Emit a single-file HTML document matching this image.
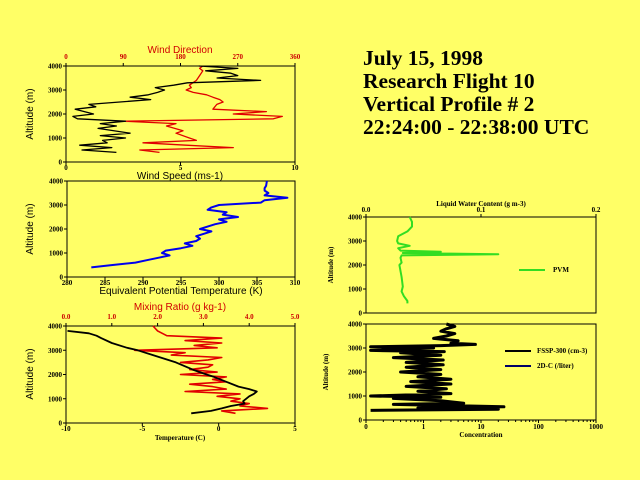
<!DOCTYPE html>
<html><head><meta charset="utf-8"><style>
html,body{margin:0;padding:0;background:#ffff66;}
svg{display:block;}
.t{font-family:"Liberation Serif",serif;font-weight:bold;font-size:21.5px;fill:#000;}
.s{font-family:"Liberation Sans",sans-serif;font-size:10px;}
.tk{font-family:"Liberation Serif",serif;font-weight:bold;font-size:7px;}
</style></head><body>
<svg id="c" width="640" height="480" xmlns="http://www.w3.org/2000/svg">
<rect width="640" height="480" fill="#ffff66"/>
<g>
<text class="t" x="363" y="65">July 15, 1998</text>
<text class="t" x="363" y="88">Research Flight 10</text>
<text class="t" x="363" y="111">Vertical Profile # 2</text>
<text class="t" x="363" y="134">22:24:00 - 22:38:00 UTC</text>
</g>
</svg>
<script>
// ---- data ----
const windAlt = [400,500,600,700,800,900,1000,1100,1200,1400,1500,1600,1700,1800,1900,2000,2200,2300,2400,2600,2700,2800,2900,3000,3100,3200,3300,3400,3500,3600,3700,3800,3900,4000];
const windSpeed = [2.2,0.7,2.0,0.6,1.8,1.6,2.6,1.5,2.8,1.4,2.2,1.5,2.6,0.5,0.3,1.2,0.4,1.3,1.0,3.7,2.8,3.6,4.0,4.3,3.9,4.7,5.3,8.5,6.6,7.5,7.2,6.1,7.5,5.8];
const dirAlt = [400,500,600,700,800,900,1000,1200,1300,1500,1600,1700,1800,1900,2000,2100,2200,2400,2500,2600,2700,2800,2900,3000,3100,3200,3400,3600,3800,3900,4000];
const windDir = [147,116,263,189,121,205,194,173,184,158,173,89,326,340,263,315,231,237,247,242,231,221,200,189,197,194,205,210,215,210,215];
const thetaAlt = [400,500,600,700,800,900,1000,1100,1200,1300,1400,1500,1600,1700,1800,1900,2000,2100,2200,2300,2400,2500,2600,2700,2800,2900,3000,3100,3200,3300,3400,3500,3600,3700,3800,4000];
const thetaE = [283.2,286,289,290.5,292,293.5,292.5,293,295,296.5,295.5,297,297.5,297,298,299,297.5,298.5,299.5,301,300,302.5,300.5,301,298.5,299,300,305.5,306,309,306,306.5,306,306,306.2,306.3];
const tempAlt = [400,500,600,700,800,900,1000,1100,1200,1300,1400,1500,1700,1900,2000,2200,2500,2800,3000,3100,3300,3500,3600,3700,3800];
const temperature = [-1.8,-0.5,0.2,0.8,1.7,1.6,1.8,2.0,2.3,2.5,2.0,1.3,0.5,-0.3,-0.8,-1.7,-2.8,-4.3,-5.3,-6,-7.0,-7.7,-8.0,-8.5,-9.9];
const mixAlt = [400,500,600,700,800,900,1000,1100,1200,1300,1400,1500,1600,1700,1800,1900,2000,2100,2200,2300,2400,2500,2600,2700,2800,2900,3000,3100,3200,3300,3400,3500,3600,3700,3800,4000];
const mixRatio = [3.7,3.4,4.4,3.8,4.0,3.6,3.8,3.3,3.8,2.6,3.5,3.2,2.7,3.5,3.2,3.5,2.5,3.3,2.7,3.1,3.2,2.5,3.1,3.4,2.3,2.6,1.5,3.3,2.8,3.4,2.6,3.4,2.2,2.1,2.0,1.9];
const lwcAlt = [400,500,700,900,1100,1500,2000,2100,2300,2400,2450,2500,2550,2600,2700,2800,2900,3000,3200,3400,3600,3800,4000];
const lwc = [0.036,0.036,0.033,0.031,0.032,0.031,0.029,0.031,0.030,0.031,0.115,0.032,0.065,0.030,0.028,0.038,0.028,0.027,0.028,0.036,0.040,0.040,0.038];
const concAlt = [400,450,500,550,650,700,800,900,950,1000,1100,1200,1300,1400,1500,1600,1700,1800,1900,2000,2100,2200,2300,2400,2500,2600,2700,2800,2850,2900,3000,3050,3100,3150,3200,3300,3400,3500,3600,3700,3800,3900,4000];
const conc = [0.12,20,0.8,25,0.3,5,2,0.3,2,0.12,3,0.8,2.5,0.5,3,0.6,3,0.8,2,0.4,2,0.5,2.2,0.5,2.2,0.3,2,0.4,2.3,0.12,1.5,0.12,2,8,3,4,1.5,2.5,3.5,2,2.5,3.5,2.5];
const altTicks = [0,1000,2000,3000,4000];

const NS="http://www.w3.org/2000/svg";
const svg=document.getElementById('c');
function el(tag,attrs,parent,txt){const e=document.createElementNS(NS,tag);for(const k in attrs)e.setAttribute(k,attrs[k]);if(txt!==undefined)e.textContent=txt;(parent||svg).appendChild(e);return e;}
function lin(d0,d1,r0,r1){return v=>r0+(v-d0)/(d1-d0)*(r1-r0);}
function logS(d0,d1,r0,r1){return v=>r0+(Math.log10(v)-Math.log10(d0))/(Math.log10(d1)-Math.log10(d0))*(r1-r0);}

function panel(name,x0,x1,y0,y1){
  const g=el('g',{});
  
  
  const r=el('rect',{x:x0,y:y0,width:x1-x0,height:y1-y0,fill:'none',stroke:'#000','stroke-width':1},g);
  
  
  const ys=lin(0,4000,y1,y0);
  altTicks.forEach(a=>{
    const t=el('line',{x1:x0-3,x2:x0,y1:ys(a),y2:ys(a),stroke:'#000'},g);
    
    
    const l=el('text',{x:x0-4,y:ys(a)+2.5,'text-anchor':'end',class:'tk'},g,String(a));
    
    
  });
  return {g,ys};
}
function xticks(g,scale,vals,labels,y,dir,color,yl){
  vals.forEach((v,i)=>{
    const t=el('line',{x1:scale(v),x2:scale(v),y1:y,y2:y+dir*3,stroke:'#000'},g);
    
    
    if(labels[i]!==''){
      const l=el('text',{x:scale(v),y:yl,'text-anchor':'middle',class:'tk',fill:color},g,labels[i]);
      
      
    }
  });
}
function series(g,xs,ys,xv,yv,color,w,name){
  const p=xv.map((v,i)=>xs(v).toFixed(1)+','+ys(yv[i]).toFixed(1)).join(' ');
  const pl=el('polyline',{points:p,fill:'none',stroke:color,'stroke-width':w,'stroke-linejoin':'round'},g);
  
  
}
function label(g,x,y,txt,name,opts){
  const t=el('text',Object.assign({x:x,y:y,'text-anchor':'middle'},opts),g,txt);
  
  
  return t;
}
const sans={class:'s'};

// Panel 1: wind
let P=panel('wind-panel',66,295,66,162);
let xs=lin(0,10,66,295);
xticks(P.g,xs,[0,5,10],['0','5','10'],162,1,'#000',170);
let xd=lin(0,360,66,295);
xticks(P.g,xd,[0,90,180,270,360],['0','90','180','270','360'],66,-1,'#c00',59);
series(P.g,xd,P.ys,windDir,dirAlt,'#e00000',1.3,'wind-direction-line');
series(P.g,xs,P.ys,windSpeed,windAlt,'#000',1.3,'wind-speed-line');
label(P.g,180,53,'Wind Direction','top-axis-title',{class:'s',fill:'#d00000'});
label(P.g,180,179,'Wind Speed (ms-1)','x-axis-title',sans);
label(P.g,0,0,'Altitude (m)','y-axis-title',{class:'s',transform:'translate(33,114) rotate(-90)'});

// Panel 2: theta-e
P=panel('theta-e-panel',67,295,181,277);
xs=lin(280,310,67,295);
xticks(P.g,xs,[280,285,290,295,300,305,310],['280','285','290','295','300','305','310'],277,1,'#000',285);
series(P.g,xs,P.ys,thetaE,thetaAlt,'#0000ee',2,'theta-e-line');
label(P.g,181,294,'Equivalent Potential Temperature (K)','x-axis-title',sans);
label(P.g,0,0,'Altitude (m)','y-axis-title',{class:'s',transform:'translate(33,229) rotate(-90)'});

// Panel 3: temp and mixing ratio
P=panel('temperature-panel',66,295,326,423);
xs=lin(-10,5,66,295);
xticks(P.g,xs,[-10,-5,0,5],['-10','-5','0','5'],423,1,'#000',431);
let xm=lin(0,5,66,295);
xticks(P.g,xm,[0,1,2,3,4,5],['0.0','1.0','2.0','3.0','4.0','5.0'],326,-1,'#c00',319);
series(P.g,xm,P.ys,mixRatio,mixAlt,'#e00000',1.6,'mixing-ratio-line');
series(P.g,xs,P.ys,temperature,tempAlt,'#000',1.8,'temperature-line');
label(P.g,180,310,'Mixing Ratio (g kg-1)','top-axis-title',{class:'s',fill:'#d00000'});
label(P.g,180,440,'Temperature (C)','x-axis-title',{class:'tk','font-size':'10px'});
label(P.g,0,0,'Altitude (m)','y-axis-title',{class:'s',transform:'translate(33,374) rotate(-90)'});

// Panel 4: LWC
P=panel('lwc-panel',366,596,217,313);
xs=lin(0,0.2,366,596);
xticks(P.g,xs,[0,0.1,0.2],['0.0','0.1','0.2'],217,-1,'#000',212);
series(P.g,xs,P.ys,lwc,lwcAlt,'#33dd22',2,'pvm-lwc-line');
label(P.g,481,206,'Liquid Water Content (g m-3)','top-axis-title',{class:'tk','font-size':'9px'});
label(P.g,0,0,'Altitude (m)','y-axis-title',{class:'tk','font-size':'9px',transform:'translate(333,265) rotate(-90)'});
let lg=el('g',{});


el('line',{x1:519,x2:545,y1:270,y2:270,stroke:'#33dd22','stroke-width':2},lg);
el('text',{x:553,y:272,class:'tk'},lg,'PVM');

// Panel 5: concentration
P=panel('concentration-panel',366,596,324,420);
xs=logS(0.1,1000,366,596);
const concTicks=[0.1,1,10,100,1000];
xticks(P.g,xs,concTicks,['0','1','10','100','1000'],420,1,'#000',429);
for(let d=0.1;d<1000;d*=10){for(let m=2;m<10;m++){const t=el('line',{x1:xs(d*m),x2:xs(d*m),y1:420,y2:422,stroke:'#000'},P.g);}}
series(P.g,xs,P.ys,conc,concAlt,'#000',3,'fssp-concentration-line');
label(P.g,481,437,'Concentration','x-axis-title',{class:'tk','font-size':'9px'});
label(P.g,0,0,'Altitude (m)','y-axis-title',{class:'tk','font-size':'9px',transform:'translate(328,372) rotate(-90)'});
lg=el('g',{});


el('line',{x1:505,x2:531,y1:351,y2:351,stroke:'#000','stroke-width':2},lg);
el('text',{x:537,y:353,class:'tk'},lg,'FSSP-300 (cm-3)');
el('line',{x1:505,x2:531,y1:366,y2:366,stroke:'#000066','stroke-width':2},lg);
el('text',{x:537,y:368,class:'tk'},lg,'2D-C (/liter)');
</script>
</body></html>
